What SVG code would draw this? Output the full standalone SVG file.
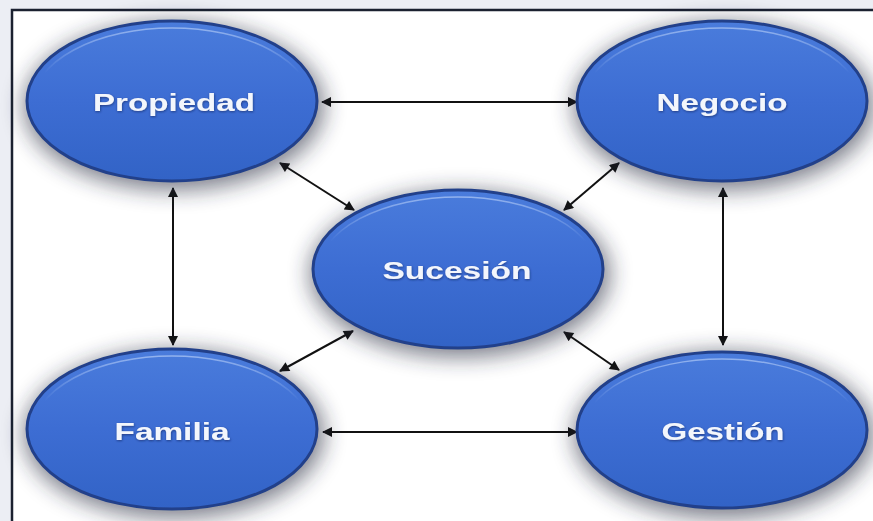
<svg xmlns="http://www.w3.org/2000/svg" width="873" height="521" viewBox="0 0 873 521">
  <style>
    .node-shadow { fill: #20263a; opacity: 0.6; filter: url(#blur); }
    .node-body { fill: url(#bodyGrad); stroke: #22408a; stroke-width: 3; }
    .node-gloss { fill: none; stroke: url(#glossGrad); stroke-width: 1.5; }
    .label { font-family: "Liberation Sans", Arial, sans-serif; font-weight: bold; font-size: 24px; fill: #f3f6fc; text-anchor: middle; filter: url(#txtShadow); }
    .conn { stroke: #111; stroke-width: 2; fill: none; marker-start: url(#arrow); marker-end: url(#arrow); }
  </style>
  <defs>
    <linearGradient id="bodyGrad" x1="0" y1="0" x2="0" y2="1">
      <stop offset="0" stop-color="#4a7cdc"/>
      <stop offset="0.5" stop-color="#3d6dd3"/>
      <stop offset="1" stop-color="#3263c6"/>
    </linearGradient>
    <linearGradient id="glossGrad" x1="0" y1="0" x2="0" y2="1">
      <stop offset="0" stop-color="#9fbcf1" stop-opacity="0.85"/>
      <stop offset="0.3" stop-color="#9fbcf1" stop-opacity="0"/>
      <stop offset="1" stop-color="#9fbcf1" stop-opacity="0"/>
    </linearGradient>
    <filter id="blur" x="-40%" y="-50%" width="180%" height="200%">
      <feGaussianBlur stdDeviation="11"/>
    </filter>
    <filter id="txtShadow" x="-10%" y="-30%" width="120%" height="160%">
      <feDropShadow dx="0.5" dy="1" stdDeviation="0.8" flood-color="#102050" flood-opacity="0.6"/>
    </filter>
    <marker id="arrow" viewBox="0 0 10 10" refX="9" refY="5" markerWidth="13" markerHeight="10" markerUnits="userSpaceOnUse" orient="auto-start-reverse">
      <path d="M0,0 L10,5 L0,10 Z" fill="#111"/>
    </marker>
  </defs>

  <rect x="0" y="0" width="873" height="521" fill="#eceef4"/>
  <rect x="12" y="10" width="880" height="530" fill="#ffffff" stroke="#1b2130" stroke-width="2.5"/>

  <g id="connectors">
    <line class="conn" x1="322" y1="102" x2="577" y2="102"/>
    <line class="conn" x1="323" y1="432" x2="577" y2="432"/>
    <line class="conn" x1="173" y1="188" x2="173" y2="345"/>
    <line class="conn" x1="723" y1="188" x2="723" y2="345"/>
    <line class="conn" x1="280" y1="163" x2="354" y2="210"/>
    <line class="conn" x1="619" y1="163" x2="564" y2="210"/>
    <line class="conn" x1="353" y1="331" x2="280" y2="371"/>
    <line class="conn" x1="564" y1="332" x2="619" y2="370"/>
  </g>

  <g id="propiedad">
    <ellipse class="node-shadow" cx="174" cy="106" rx="150" ry="84"/>
    <ellipse class="node-body" cx="172" cy="101" rx="145" ry="80"/>
    <ellipse class="node-gloss" cx="172" cy="103" rx="139" ry="75"/>
    <text class="label" x="174" y="111" textLength="162" lengthAdjust="spacingAndGlyphs">Propiedad</text>
  </g>

  <g id="negocio">
    <ellipse class="node-shadow" cx="724" cy="106" rx="150" ry="84"/>
    <ellipse class="node-body" cx="722" cy="101" rx="145" ry="80"/>
    <ellipse class="node-gloss" cx="722" cy="103" rx="139" ry="75"/>
    <text class="label" x="722" y="111" textLength="131" lengthAdjust="spacingAndGlyphs">Negocio</text>
  </g>

  <g id="sucesion">
    <ellipse class="node-shadow" cx="460" cy="274" rx="150" ry="83"/>
    <ellipse class="node-body" cx="458" cy="269" rx="145" ry="79"/>
    <ellipse class="node-gloss" cx="458" cy="271" rx="139" ry="74"/>
    <text class="label" x="457" y="279" textLength="149" lengthAdjust="spacingAndGlyphs">Sucesión</text>
  </g>

  <g id="familia">
    <ellipse class="node-shadow" cx="174" cy="434" rx="150" ry="84"/>
    <ellipse class="node-body" cx="172" cy="429" rx="145" ry="80"/>
    <ellipse class="node-gloss" cx="172" cy="431" rx="139" ry="75"/>
    <text class="label" x="172" y="440" textLength="115" lengthAdjust="spacingAndGlyphs">Familia</text>
  </g>

  <g id="gestion">
    <ellipse class="node-shadow" cx="724" cy="435" rx="150" ry="83"/>
    <ellipse class="node-body" cx="722" cy="430" rx="145" ry="78"/>
    <ellipse class="node-gloss" cx="722" cy="432" rx="139" ry="73"/>
    <text class="label" x="723" y="440" textLength="123" lengthAdjust="spacingAndGlyphs">Gestión</text>
  </g>
</svg>
